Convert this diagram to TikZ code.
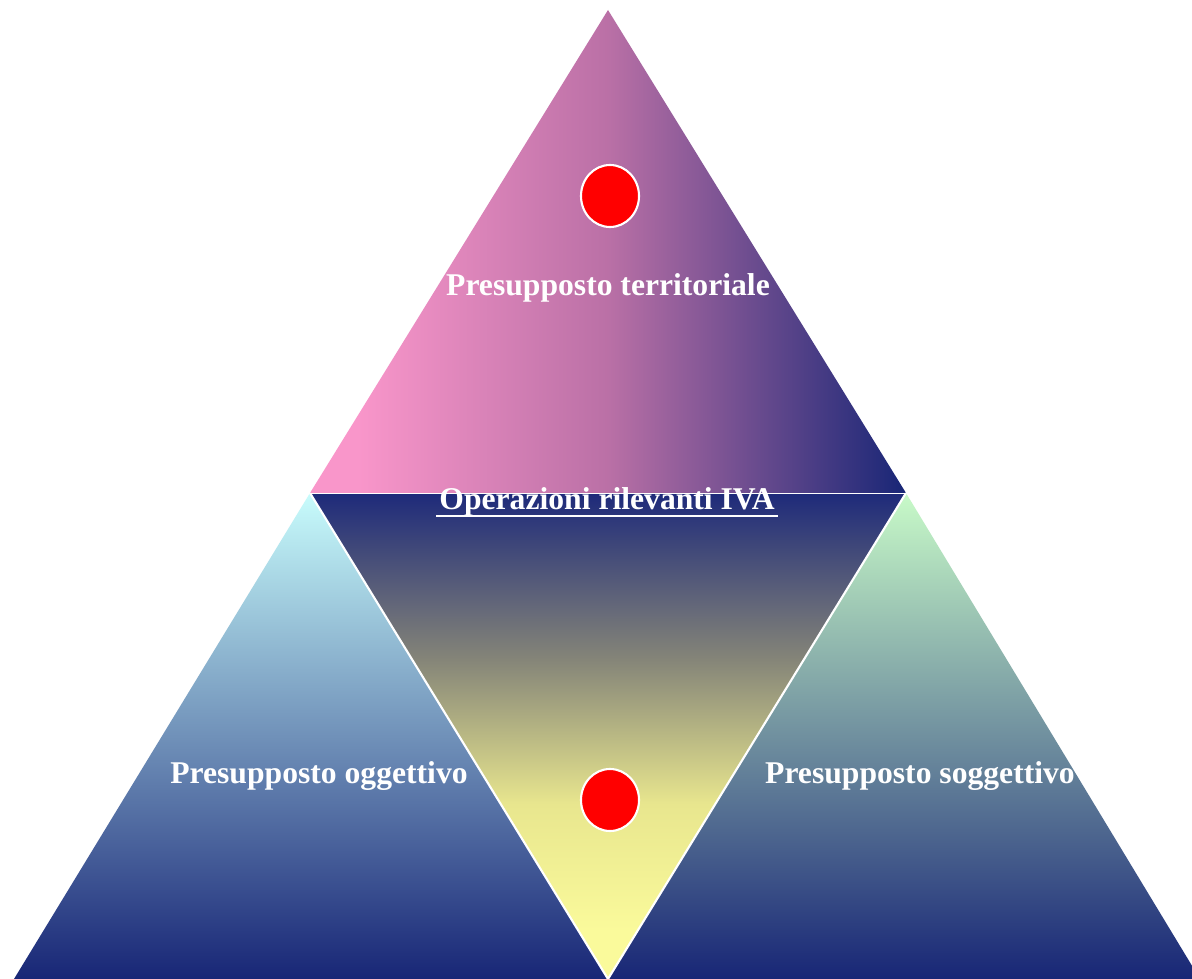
\documentclass[tikz,border=0pt]{standalone}
\usepackage{fontspec}
\setmainfont{Liberation Serif}
\usetikzlibrary{
    shapes.geometric,
    positioning,
    calc
}
\definecolor{bgWhite}{RGB}{255, 255, 255}
\definecolor{pinkLight}{RGB}{249, 150, 202}
\definecolor{purpleMid}{RGB}{186, 112, 166}
\definecolor{navyDeep}{RGB}{24, 38, 118}
\definecolor{navyTop}{RGB}{30, 42, 122}
\definecolor{yellowPale}{RGB}{250, 250, 155}
\definecolor{yellowMid}{RGB}{232, 230, 142}
\definecolor{grayMid}{RGB}{132, 132, 120}
\definecolor{cyanPale}{RGB}{200, 252, 252}
\definecolor{greenPale}{RGB}{200, 250, 200}
\definecolor{dotRed}{RGB}{255, 0, 0}
\def\picW{1192}
\def\picH{979}
\pgfdeclarehorizontalshading{pinkToNavy}{100bp}{
    color(0bp)=(pinkLight); color(29bp)=(pinkLight);
    color(50bp)=(purpleMid);
    color(75bp)=(navyDeep); color(100bp)=(navyDeep)}
\pgfdeclareverticalshading{navyToYellow}{100bp}{
    color(0bp)=(yellowPale); color(30bp)=(yellowPale);
    color(43bp)=(yellowMid);
    color(58bp)=(grayMid);
    color(75bp)=(navyTop); color(100bp)=(navyTop)}
\tikzset{
    label/.style={
        font=\bfseries\fontsize{22.5}{26}\selectfont,
        text=bgWhite,
        inner sep=2pt
    },
    dot/.style={
        ellipse,
        fill=dotRed,
        draw=bgWhite,
        line width=1.5pt,
        minimum width=1.45cm,
        minimum height=1.55cm,
        inner sep=0pt
    },
    edge/.style={
        draw=bgWhite,
        line width=1.5pt
    }
}
\begin{document}
\begin{tikzpicture}[x=0.025cm, y=-0.025cm]
    \useasboundingbox (0,0) rectangle (\picW, \picH);
    \fill[bgWhite] (0,0) rectangle (\picW, \picH);

    % Corners of the pyramid
    \coordinate (apex) at (608, 10);
    \coordinate (midL) at (310, 493);
    \coordinate (midR) at (906, 493);
    \coordinate (baseL) at (14, 979);
    \coordinate (baseM) at (608, 979);
    \coordinate (baseR) at (1200, 979);

    % Triangles
    \begin{scope}
        \clip (0,0) rectangle (\picW, \picH);
        \shade[shading=pinkToNavy] (apex) -- (midL) -- (midR) -- cycle;
        \shade[top color=cyanPale, bottom color=navyDeep] (midL) -- (baseL) -- (baseM) -- cycle;
        \shade[top color=greenPale, bottom color=navyDeep] (midR) -- (baseM) -- (baseR) -- cycle;
        \shade[shading=navyToYellow] (midL) -- (midR) -- (baseM) -- cycle;
    \end{scope}
    \draw[bgWhite!75, line width=0.6pt] (midL) -- (midR);
    \draw[edge] (midL) -- (baseM) -- (midR);

    % Red dots
    \node[dot] (dotTop) at (610, 196) {};
    \node[dot] (dotBottom) at (610, 800) {};

    % Labels
    \node[label] (territoriale) at (608, 288) {Presupposto territoriale};
    \node[label] (operazioni) at (607, 502) {Operazioni rilevanti IVA};
    \draw[bgWhite, line width=1.3pt] ([yshift=2.5pt]operazioni.south west) -- ([yshift=2.5pt]operazioni.south east);
    \node[label] (oggettivo) at (319, 776) {Presupposto oggettivo};
    \node[label] (soggettivo) at (920, 776) {Presupposto soggettivo};
\end{tikzpicture}
\end{document}
